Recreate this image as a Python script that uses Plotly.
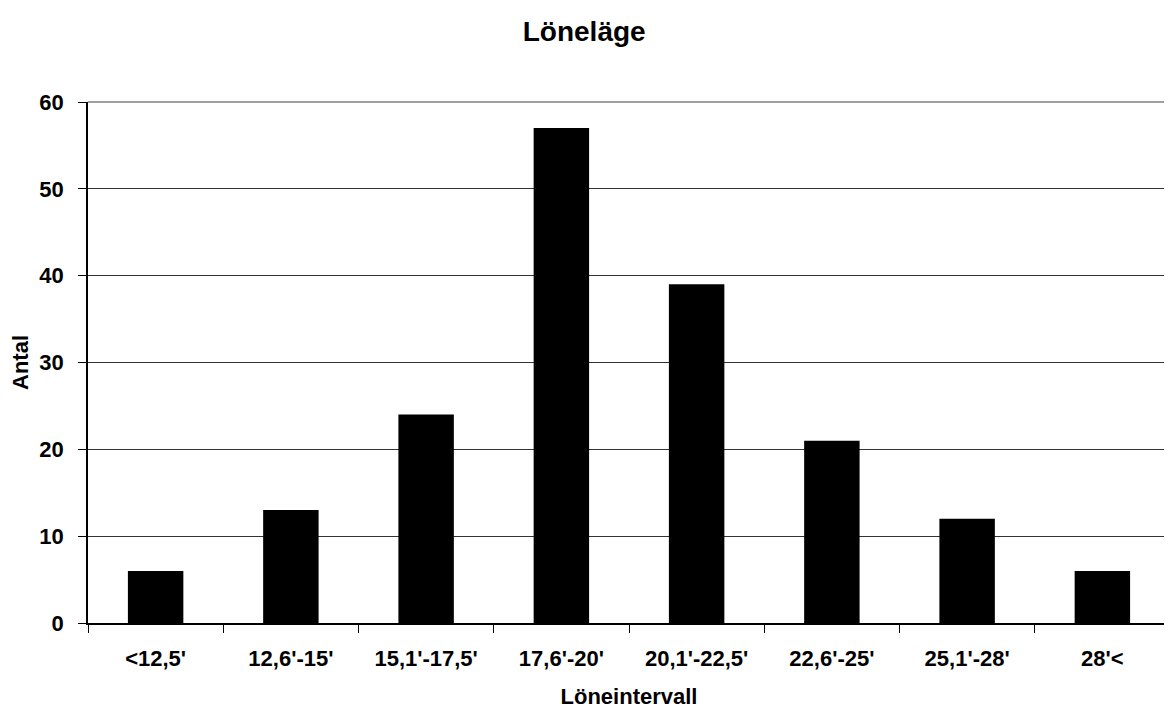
import plotly.graph_objects as go

categories = ["<12,5'", "12,6'-15'", "15,1'-17,5'", "17,6'-20'", "20,1'-22,5'", "22,6'-25'", "25,1'-28'", "28'<"]
values = [6, 13, 24, 57, 39, 21, 12, 6]
y_ticks = [0, 10, 20, 30, 40, 50, 60]

font_family = "Liberation Sans, Arial, sans-serif"

fig = go.Figure()
fig.add_trace(go.Bar(
    x=categories, y=values,
    marker=dict(color="black", line=dict(color="black", width=0)),
    width=0.41,
))

fig.update_layout(
    width=1164, height=701,
    margin=dict(l=80, r=2, t=94, b=86),
    paper_bgcolor="white", plot_bgcolor="white",
    font=dict(family=font_family, color="black", size=20, weight="bold"),
    title=dict(text="Löneläge", x=0.495, xanchor="center", y=0.967, yanchor="middle",
               font=dict(size=28, family=font_family, color="black", weight="bold")),
    showlegend=False,
    shapes=[
        dict(type="line", xref="paper", yref="paper", x0=0, x1=1, y0=1, y1=1,
             line=dict(color="#808080", width=1.5), layer="above"),
        dict(type="line", xref="paper", yref="paper", x0=1, x1=1, y0=0, y1=1,
             line=dict(color="#808080", width=1.5), layer="above"),
    ],
)

fig.update_xaxes(
    type="category", tickson="boundaries", ticks="outside", ticklen=8, tickwidth=1, tickcolor="black",
    showline=True, linecolor="black", linewidth=1.5, showgrid=False,
    tickfont=dict(size=22, family=font_family, color="black", weight="bold"),
    ticklabelstandoff=15,
    title=dict(text="Löneintervall", font=dict(size=22, family=font_family, weight="bold"), standoff=18),
)
fig.update_yaxes(
    range=[0, 60], tickvals=y_ticks, ticks="outside", ticklen=8, tickwidth=1, tickcolor="black",
    showline=True, linecolor="black", linewidth=1.5,
    showgrid=True, gridcolor="#333333", gridwidth=1, zeroline=False,
    tickfont=dict(size=22, family=font_family, color="black", weight="bold"),
    ticklabelstandoff=10,
    title=dict(text="Antal", font=dict(size=22, family=font_family, weight="bold"), standoff=12),
)

fig.write_html("out.html")
